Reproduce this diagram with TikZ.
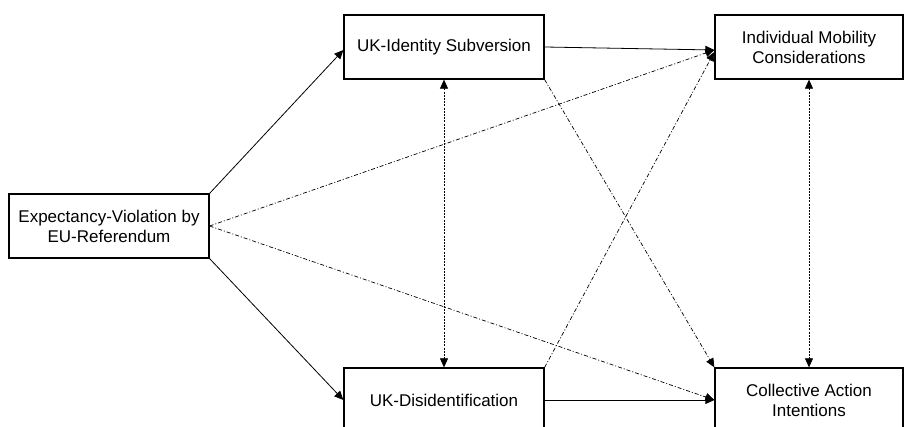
\documentclass[tikz,border=0pt]{standalone}
\usepackage{fontspec}
\setmainfont{Liberation Sans}
\usetikzlibrary{arrows.meta}
\begin{document}
\begin{tikzpicture}[x=1pt,y=-1pt,>={Triangle[length=9pt,width=8pt]},
    box/.style={draw, line width=1.3pt, minimum height=64pt, align=center, inner sep=0pt,
      font=\fontsize{17}{20}\selectfont},
    path/.style={line width=0.8pt},
    sidepath/.style={line width=0.7pt, dash pattern=on 4pt off 2pt on 1pt off 2pt},
    corrpath/.style={line width=0.7pt, dash pattern=on 2pt off 1.2pt}]
     \useasboundingbox (0,0) rectangle (904,427);
     \node [box, minimum width=200pt] (violation) at (109,226) {Expectancy-Violation by\\EU-Referendum};
     \node [box, minimum width=200pt] (subversion) at (444,47) {UK-Identity Subversion};
     \node [box, minimum width=200pt] (disident) at (444,400) {UK-Disidentification};
     \node [box, minimum width=188pt] (mobility) at (809,47) {Individual Mobility\\Considerations};
     \node [box, minimum width=188pt] (action) at (809,400) {Collective Action\\Intentions};
     \draw [path,->] (violation.north east) -- ([yshift=-3pt]subversion.west);
     \draw [path,->] (violation.south east) -- (disident.west);
     \draw [sidepath,->] (violation.east) -- ([yshift=-3pt]mobility.west);
     \draw [sidepath,->] (violation.east) -- (action.west);
     \draw [path,->] (subversion.east) -- ([yshift=-3pt]mobility.west);
     \draw [sidepath,->] (subversion.south east) -- (action.north west);
     \draw [sidepath,->] (disident.north east) -- ([yshift=-5pt]mobility.west);
     \draw [path,->] (disident.east) -- (action.west);
     \draw [corrpath,<->] (subversion.south) -- (disident.north);
     \draw [corrpath,<->] (mobility.south) -- (action.north);
\end{tikzpicture}
\end{document}
